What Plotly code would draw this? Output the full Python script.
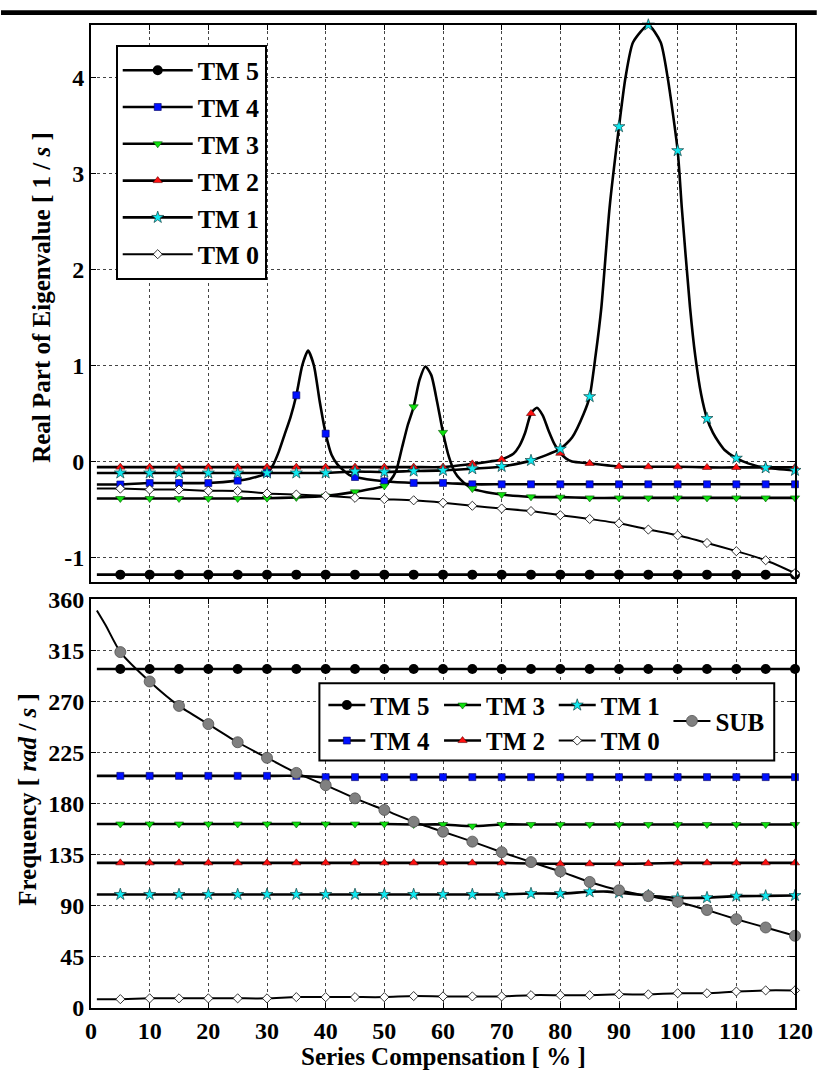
import plotly.graph_objects as go

# ---------------- data: upper panel (real part of eigenvalue, 1/s) ----------------
RE_TM5_X = [1, 5, 10, 15, 20, 25, 30, 35, 40, 45, 50, 55, 60, 65, 70, 75, 80, 85, 90, 95, 100, 105, 110, 115, 120]
RE_TM5_Y = [-1.18, -1.18, -1.18, -1.18, -1.18, -1.18, -1.18, -1.18, -1.18, -1.18, -1.18, -1.18, -1.18,
            -1.18, -1.18, -1.18, -1.18, -1.18, -1.18, -1.18, -1.18, -1.18, -1.18, -1.18, -1.18]

RE_TM4_X = [1, 5, 10, 15, 20, 25, 27, 30, 31, 32, 33, 34, 35, 36, 37, 38, 39, 40, 41, 42, 43, 44, 45,
            50, 55, 60, 65, 70, 75, 80, 85, 90, 95, 100, 105, 110, 115, 120]
RE_TM4_Y = [-0.24, -0.24, -0.225, -0.225, -0.225, -0.2, -0.18, -0.12, -0.04, 0.1, 0.28, 0.46, 0.69, 1.0,
            1.155, 1.0, 0.62, 0.29, 0.07, -0.03, -0.09, -0.14, -0.162,
            -0.207, -0.224, -0.224, -0.238, -0.238, -0.238, -0.238, -0.238, -0.238, -0.238, -0.238, -0.238,
            -0.238, -0.238, -0.238]

RE_TM3_X = [1, 5, 10, 15, 20, 25, 30, 35, 40, 45, 48, 50, 51, 52, 53, 54, 55, 56, 57, 58, 59, 60, 61, 62, 63,
            65, 70, 75, 80, 85, 90, 95, 100, 105, 110, 115, 120]
RE_TM3_Y = [-0.386, -0.386, -0.386, -0.386, -0.386, -0.386, -0.383, -0.375, -0.36, -0.317, -0.285, -0.255,
            -0.2, -0.1, 0.14, 0.38, 0.57, 0.85, 0.99, 0.9, 0.62, 0.303, 0.05, -0.11, -0.19,
            -0.283, -0.345, -0.369, -0.372, -0.38, -0.38, -0.38, -0.38, -0.38, -0.38, -0.38, -0.38]

RE_TM2_X = [1, 5, 10, 15, 20, 25, 30, 35, 40, 45, 50, 55, 60, 65, 68, 70, 72, 73, 74, 75, 76, 77, 78, 79, 80,
            81, 82, 85, 90, 95, 100, 105, 110, 115, 120]
RE_TM2_Y = [-0.059, -0.059, -0.059, -0.059, -0.059, -0.059, -0.059, -0.059, -0.059, -0.059, -0.059, -0.059,
            -0.059, -0.025, 0.0, 0.021, 0.08, 0.16, 0.3, 0.5, 0.56, 0.48, 0.32, 0.18, 0.086,
            0.03, 0.0, -0.02, -0.052, -0.055, -0.055, -0.062, -0.062, -0.062, -0.062]

RE_TM1_X = [1, 5, 10, 15, 20, 25, 30, 35, 40, 45, 50, 55, 60, 65, 70, 75, 80, 82, 84, 85, 86, 87, 88.4, 90,
            91.1, 92.4, 95, 97.1, 98.3, 100, 100.7, 102.1, 103, 104, 105, 106, 107, 108, 110, 112, 115, 120]
RE_TM1_Y = [-0.12, -0.12, -0.12, -0.12, -0.12, -0.12, -0.12, -0.12, -0.12, -0.105, -0.11, -0.1, -0.093,
            -0.076, -0.052, 0.01, 0.131, 0.25, 0.5, 0.676, 1.1, 1.61, 2.65, 3.49,
            4.0, 4.37, 4.55, 4.37, 4.0, 3.24, 2.65, 1.61, 1.1, 0.7, 0.448, 0.3, 0.2, 0.12, 0.034, -0.02,
            -0.066, -0.093]

RE_TM0_X = [1, 5, 10, 15, 20, 25, 30, 35, 40, 45, 50, 55, 60, 65, 70, 75, 80, 85, 90, 95, 100, 105, 110, 115, 120]
RE_TM0_Y = [-0.283, -0.283, -0.293, -0.293, -0.305, -0.307, -0.334, -0.345, -0.358, -0.379, -0.393, -0.405,
            -0.43, -0.462, -0.49, -0.517, -0.56, -0.6, -0.645, -0.71, -0.77, -0.85, -0.935, -1.03, -1.165]

# ---------------- data: lower panel (frequency, rad/s) ----------------
FR_X = [1, 5, 10, 15, 20, 25, 30, 35, 40, 45, 50, 55, 60, 65, 70, 75, 80, 85, 90, 95, 100, 105, 110, 115, 120]
FR_TM5_Y = [298.5, 298.5, 298.5, 298.5, 298.5, 298.5, 298.5, 298.5, 298.5, 298.5, 298.5, 298.5, 298.5,
            298.5, 298.5, 298.5, 298.5, 298.5, 298.5, 298.5, 298.5, 298.5, 298.5, 298.5, 298.5]
FR_TM4_Y = [204.4, 204.4, 204.4, 204.4, 204.4, 204.4, 204.4, 204.4, 203.3, 203.3, 203.3, 203.3, 203.3,
            203.3, 203.3, 203.3, 203.3, 203.3, 203.3, 203.3, 203.3, 203.3, 203.3, 203.3, 203.3]
FR_TM3_Y = [162.0, 162.0, 162.0, 162.0, 162.0, 162.0, 162.0, 162.0, 162.0, 162.0, 162.0, 161.6, 161.6,
            160.2, 161.6, 161.6, 161.6, 161.6, 161.6, 161.6, 161.6, 161.6, 161.6, 161.6, 161.6]
FR_TM2_Y = [127.8, 127.8, 127.8, 127.8, 127.8, 127.8, 127.8, 127.8, 127.8, 127.8, 127.8, 127.8, 127.8,
            127.8, 127.8, 127.2, 127.0, 127.0, 127.0, 127.2, 127.8, 127.8, 127.8, 127.8, 127.8]
FR_TM1_X = [1, 5, 10, 15, 20, 25, 30, 35, 40, 45, 50, 55, 60, 65, 70, 75, 80, 85, 88, 90, 95, 100, 105, 110, 115, 120]
FR_TM1_Y = [100.0, 100.0, 100.0, 100.0, 100.0, 100.0, 100.0, 100.0, 100.0, 100.0, 100.0, 100.0, 100.0,
            100.0, 100.0, 100.8, 100.8, 102.3, 102.5, 101.5, 99.0, 97.0, 97.2, 98.5, 98.7, 99.0]
FR_TM0_Y = [7.8, 7.8, 8.5, 8.5, 8.5, 8.5, 8.5, 9.6, 9.6, 9.6, 9.6, 10.5, 10.2, 10.2, 10.2, 11.3, 11.3,
            11.3, 12.0, 12.0, 13.0, 13.0, 14.5, 15.5, 15.5]
FR_SUB_X = [1, 2.5, 5, 10, 15, 20, 25, 30, 35, 40, 45, 50, 55, 60, 65, 70, 75, 80, 85, 90, 95, 100, 105,
            110, 115, 120]
FR_SUB_Y = [350.0, 337.0, 313.4, 287.5, 266.0, 250.0, 234.0, 220.3, 207.0, 196.2, 184.6, 174.4, 164.0,
            155.2, 146.5, 137.2, 128.5, 120.3, 111.0, 103.7, 98.5, 93.6, 86.3, 78.2, 70.9, 63.6]

X_TICKS = [0, 10, 20, 30, 40, 50, 60, 70, 80, 90, 100, 110, 120]
RE_TICKS = [-1, 0, 1, 2, 3, 4]
RE_TICK_TEXT = ["-1", "0", "1", "2", "3", "4"]
FR_TICKS = [0, 45, 90, 135, 180, 225, 270, 315, 360]

NAMES = ["TM 5", "TM 4", "TM 3", "TM 2", "TM 1", "TM 0"]

# ---------------- styles ----------------
FONT = "Liberation Serif"
STY = {
    "TM 5": dict(symbol="circle", color="black", size=10, lc="black", lw=0),
    "TM 4": dict(symbol="square", color="#0010ff", size=7, lc="#000060", lw=0.6),
    "TM 3": dict(symbol="triangle-down", color="#10e010", size=8, lc="#005000", lw=0.6),
    "TM 2": dict(symbol="triangle-up", color="#ff1010", size=8, lc="#600000", lw=0.6),
    "TM 1": dict(symbol="star", color="#10e8f0", size=9, lc="#104040", lw=0.7),
    "TM 0": dict(symbol="diamond", color="white", size=7, lc="black", lw=0.8),
    "SUB": dict(symbol="circle", color="#808080", size=11, lc="#505050", lw=0.8),
}
LINE_W = {"TM 5": 2.6, "TM 4": 2.6, "TM 3": 2.6, "TM 2": 2.6, "TM 1": 2.6, "TM 0": 2.0, "SUB": 2.0}

fig = go.Figure()


def add_series(name, xs, ys, xa, ya):
    fig.add_trace(go.Scatter(x=xs, y=ys, mode="lines", line=dict(color="black", width=LINE_W[name],
                                                                   shape="spline", smoothing=0.6),
                             showlegend=False, hoverinfo="skip", xaxis=xa, yaxis=ya))


def add_markers(name, xs, ys, xa, ya):
    s = STY[name]
    mx = [x for x in xs if x >= 5 and x % 5 == 0]
    my = [y for x, y in zip(xs, ys) if x >= 5 and x % 5 == 0]
    fig.add_trace(go.Scatter(x=mx, y=my, mode="markers", cliponaxis=False,
                             marker=dict(symbol=s["symbol"], color=s["color"], size=s["size"],
                                         line=dict(color=s["lc"], width=s["lw"])),
                             showlegend=False, xaxis=xa, yaxis=ya))


def add_legend_item(name, legend, xa, ya):
    s = STY[name]
    fig.add_trace(go.Scatter(x=[None], y=[None], mode="lines+markers", name=name,
                             line=dict(color="black", width=LINE_W[name]),
                             marker=dict(symbol=s["symbol"], color=s["color"], size=s["size"],
                                         line=dict(color=s["lc"], width=s["lw"])),
                             legend=legend, xaxis=xa, yaxis=ya))


top = [("TM 5", RE_TM5_X, RE_TM5_Y), ("TM 4", RE_TM4_X, RE_TM4_Y), ("TM 3", RE_TM3_X, RE_TM3_Y),
       ("TM 2", RE_TM2_X, RE_TM2_Y), ("TM 1", RE_TM1_X, RE_TM1_Y), ("TM 0", RE_TM0_X, RE_TM0_Y)]
bot = [("TM 5", FR_X, FR_TM5_Y), ("TM 4", FR_X, FR_TM4_Y), ("TM 3", FR_X, FR_TM3_Y),
       ("TM 2", FR_X, FR_TM2_Y), ("TM 1", FR_TM1_X, FR_TM1_Y), ("TM 0", FR_X, FR_TM0_Y),
       ("SUB", FR_SUB_X, FR_SUB_Y)]

for n, xs, ys in top:
    add_series(n, xs, ys, "x", "y")
for n, xs, ys in bot:
    add_series(n, xs, ys, "x2", "y2")
for n, xs, ys in top:
    add_markers(n, xs, ys, "x", "y")
for n, xs, ys in bot:
    add_markers(n, xs, ys, "x2", "y2")

# legends
for n in NAMES:
    add_legend_item(n, "legend", "x", "y")
bottom_cols = [("legend2", ["TM 5", "TM 4"]), ("legend3", ["TM 3", "TM 2"]),
               ("legend4", ["TM 1", "TM 0"]), ("legend5", ["SUB"])]
for lg, names in bottom_cols:
    for n in names:
        add_legend_item(n, lg, "x2", "y2")

# ---------------- layout ----------------
W, H = 825, 1070
ML, MR, MT, MB = 91, 22, 15, 62
PW, PH = W - ML - MR, H - MT - MB


def px(x):
    return (x - ML) / PW


def py(y):
    return 1 - (y - MT) / PH


tickfont = dict(family=FONT, size=24, color="black", weight="bold")
axis_common = dict(showline=True, linecolor="black", linewidth=2, mirror="ticks", ticks="inside",
                   ticklen=5, tickcolor="black", showgrid=True, gridcolor="#444", griddash="dot",
                   gridwidth=1, zeroline=False, tickfont=tickfont)

bot_font = dict(family=FONT, size=25, color="black", weight="bold")
bot_leg = dict(bgcolor="rgba(0,0,0,0)", borderwidth=0, font=bot_font, itemwidth=37,
               xanchor="left", yanchor="top")
title_font = dict(family=FONT, size=25, color="black", weight="bold")

fig.update_layout(
    width=W, height=H, autosize=False,
    margin=dict(l=ML, r=MR, t=MT, b=MB),
    paper_bgcolor="white", plot_bgcolor="white",
    xaxis=dict(domain=[0, 1], anchor="y", range=[0, 120], tickvals=X_TICKS, showticklabels=False,
               **axis_common),
    yaxis=dict(domain=[py(578), 1], anchor="x", range=[-1.26, 4.55], tickvals=RE_TICKS,
               ticktext=RE_TICK_TEXT, **axis_common),
    xaxis2=dict(domain=[0, 1], anchor="y2", range=[0, 120], tickvals=X_TICKS, **axis_common),
    yaxis2=dict(domain=[0, py(595)], anchor="x2", range=[0, 360], tickvals=FR_TICKS, **axis_common),
    legend=dict(x=px(116), y=py(35), xanchor="left", yanchor="top", bgcolor="white",
                bordercolor="black", borderwidth=2,
                font=dict(family=FONT, size=26, color="black", weight="bold"), itemwidth=70),
    legend2=dict(x=px(326), y=py(679), **bot_leg),
    legend3=dict(x=px(443), y=py(679), **bot_leg),
    legend4=dict(x=px(559), y=py(679), **bot_leg),
    legend5=dict(x=px(675), y=py(695), **bot_leg),
    shapes=[
        dict(type="rect", xref="paper", yref="paper", x0=px(322), x1=px(782), y0=py(758), y1=py(680),
             fillcolor="white", line=dict(color="black", width=2), layer="above"),
        dict(type="rect", xref="paper", yref="paper", x0=px(0), x1=px(825), y0=py(5), y1=py(0),
             fillcolor="black", line=dict(width=0), layer="above"),
    ],
    annotations=[
        dict(text="Real Part of Eigenvalue [ 1 / <i>s</i> ]", xref="paper", yref="paper",
             x=px(41), y=py(290), textangle=-90, showarrow=False, xanchor="center", yanchor="middle",
             font=title_font),
        dict(text="Frequency [ <i>rad</i> / <i>s</i> ]", xref="paper", yref="paper",
             x=px(26), y=py(797), textangle=-90, showarrow=False, xanchor="center", yanchor="middle",
             font=title_font),
        dict(text="Series Compensation [ % ]", xref="paper", yref="paper",
             x=px(447), y=py(1057), showarrow=False, xanchor="center", yanchor="middle",
             font=title_font),
    ],
)

fig.write_html("out.html")
